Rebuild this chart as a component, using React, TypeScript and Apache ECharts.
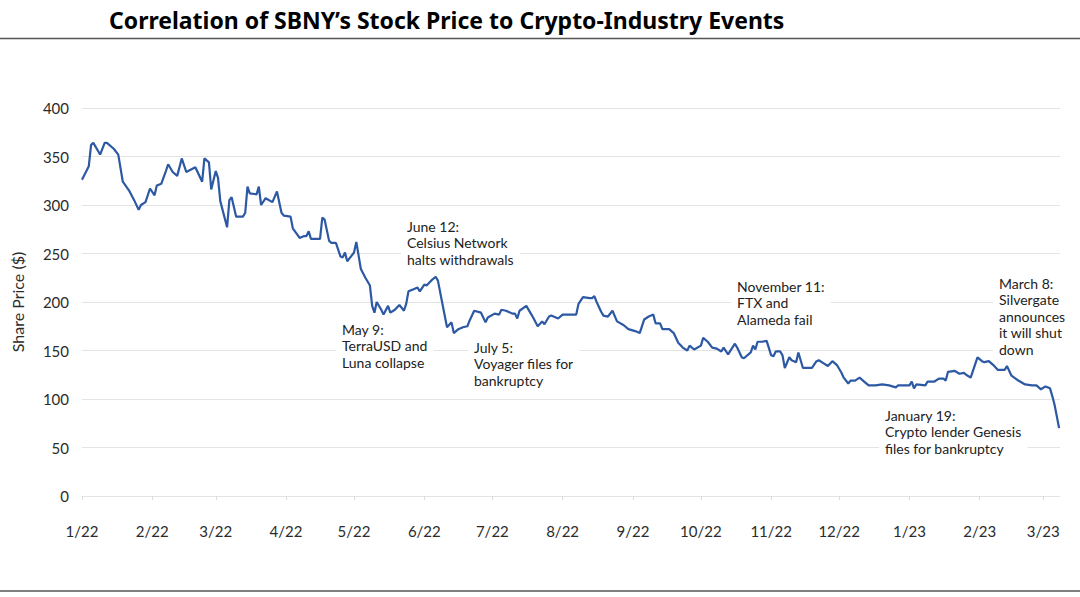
import React, { useEffect, useRef } from "react";
import * as echarts from "echarts";

// Days since 2022-01-01 of each sampled point
const DAYS = [0,3,4,5,8,10,11,14,16,18,21,23,25,26,28,30,32,33,35,37,38,40,42,44,46,50,53,54,56,57,59,60,61,64,65,66,68,71,72,73,74,77,78,79,81,84,86,88,89,92,93,96,98,99,100,101,105,106,107,109,110,112,114,115,116,117,118,120,121,123,125,127,128,129,130,132,133,135,136,138,140,142,143,144,146,148,149,151,152,154,156,157,159,161,163,164,166,168,170,171,173,176,178,179,182,184,185,187,190,191,192,193,196,198,199,201,203,204,206,207,210,212,215,216,218,219,221,224,225,226,227,229,230,232,234,236,239,241,244,246,248,250,252,253,255,256,259,261,263,265,267,268,270,273,274,276,278,280,282,283,285,288,289,291,292,295,296,297,298,300,302,304,305,306,308,309,310,312,313,315,316,318,322,324,325,327,329,331,333,335,336,338,339,341,343,345,347,350,353,356,359,360,362,365,366,367,368,372,373,376,378,380,381,382,385,387,389,390,392,395,397,398,400,402,404,407,408,410,413,416,419,421,423,425,427,428,429,431];

// SBNY share price ($)
const PRICES = [326,340,362,364,352,364,364,358,352,324,314,305,295,300,303,317,310,320,322,335,342,334,330,348,334,339,324,348,344,316,335,328,304,277,305,308,288,288,292,319,312,311,319,300,307,303,314,292,289,288,276,266,268,268,273,265,265,287,285,263,261,261,247,246,251,242,245,251,262,234,225,217,196,189,200,192,187,196,189,192,197,191,198,211,213,215,211,218,217,222,226,222,198,174,179,168,172,174,175,181,191,189,179,184,188,187,192,191,188,188,183,191,196,188,184,175,180,177,185,186,183,187,187,187,187,198,205,204,204,206,200,190,186,185,191,180,176,172,170,168,182,185,187,178,178,172,172,168,158,153,150,155,151,155,163,159,153,152,149,153,146,157,153,143,142,148,155,151,159,159,160,145,144,149,149,145,132,143,140,138,148,132,132,139,140,137,134,139,135,127,122,116,119,119,122,118,114,114,115,114,112,114,114,114,118,111,115,114,118,118,121,121,119,128,129,126,127,125,122,143,139,138,139,135,130,130,134,124,119,115,114,114,110,113,111,103,94,70];

const X_TICK_LABELS = ["1/22","2/22","3/22","4/22","5/22","6/22","7/22","8/22","9/22","10/22","11/22","12/22","1/23","2/23","3/23"];
const Y_TICKS = [0, 50, 100, 150, 200, 250, 300, 350, 400];

const EVENT_NOTES = [
  "June 12:\nCelsius Network\nhalts withdrawals",
  "May 9:\nTerraUSD and\nLuna collapse",
  "July 5:\nVoyager files for\nbankruptcy",
  "November 11:\nFTX and\nAlameda fail",
  "March 8:\nSilvergate\nannounces\nit will shut\ndown",
  "January 19:\nCrypto lender Genesis\nfiles for bankruptcy",
];

const TITLE = "Correlation of SBNY\u2019s Stock Price to Crypto-Industry Events";

const DAY = 86400000;
const T0 = Date.UTC(2022, 0, 1);

export default function App() {
  const ref = useRef<HTMLDivElement>(null);
  useEffect(() => {
    if (!ref.current) return;
    const chart = echarts.init(ref.current, undefined, { renderer: "svg" });
    const notePos = [
      [401, 218],
      [336, 321],
      [468, 339],
      [731, 278],
      [993, 275],
      [879, 407],
    ];
    const font = "Lato, 'Noto Sans', sans-serif";
    chart.setOption({
      animation: false,
      useUTC: true,
      backgroundColor: "#ffffff",
      title: {
        text: TITLE,
        left: 109,
        top: 8,
        padding: 0,
        textStyle: { fontFamily: "'Noto Sans', sans-serif", fontWeight: "bold", fontSize: 23, color: "#000" },
      },
      grid: { left: 82, right: 20, top: 108, bottom: 101 },
      xAxis: {
        type: "time",
        min: T0,
        max: T0 + 431.4 * DAY,
        splitNumber: 14,
        minInterval: 28 * DAY,
        maxInterval: 31 * DAY,
        axisLine: { show: true, lineStyle: { color: "#e3e3e3", width: 1 } },
        axisTick: { show: true, length: 4, lineStyle: { color: "#dcdcdc" } },
        splitLine: { show: false },
        axisLabel: {
          margin: 27,
          color: "#2b2b2b",
          fontSize: 15,
          fontFamily: font,
          hideOverlap: false,
          formatter: (v: number) => {
            const d = new Date(v);
            const idx = (d.getUTCFullYear() - 2022) * 12 + d.getUTCMonth();
            return X_TICK_LABELS[idx] ?? "";
          },
        },
      },
      yAxis: {
        type: "value",
        min: Y_TICKS[0],
        max: Y_TICKS[Y_TICKS.length - 1],
        interval: 50,
        name: "Share Price ($)",
        nameLocation: "middle",
        nameGap: 57,
        nameTextStyle: { fontFamily: font, fontSize: 16, color: "#2b2b2b" },
        axisLine: { show: false },
        axisTick: { show: false },
        splitLine: { lineStyle: { color: "#e4e4e4", width: 1 } },
        axisLabel: { margin: 13, color: "#2b2b2b", fontSize: 15, fontFamily: font },
      },
      series: [
        {
          type: "line",
          data: DAYS.map((d, i) => [T0 + d * DAY, PRICES[i]]),
          symbol: "none",
          lineStyle: { color: "#2c58a4", width: 2.2 },
          z: 3,
        },
      ],
      graphic: [
        {
          type: "line",
          shape: { x1: 0, y1: 38.5, x2: 1080, y2: 38.5 },
          style: { stroke: "#555", lineWidth: 1.5 },
        },
        {
          type: "line",
          shape: { x1: 0, y1: 591, x2: 1080, y2: 591 },
          style: { stroke: "#555", lineWidth: 1.5 },
        },
        ...EVENT_NOTES.map((t, i) => ({
          type: "text",
          x: notePos[i][0],
          y: notePos[i][1],
          z: 10,
          style: {
            text: t,
            font: `14px ${font}`,
            fill: "#222",
            lineHeight: 16.5,
            verticalAlign: "top",
            align: "left",
            backgroundColor: "#fff",
            padding: [0, 6, 0, 6],
          },
        })),
      ],
    });
    return () => chart.dispose();
  }, []);
  return (
    <div
      ref={ref}
      style={{ position: "fixed", left: 0, top: 0, width: 1080, height: 597 }}
    />
  );
}
